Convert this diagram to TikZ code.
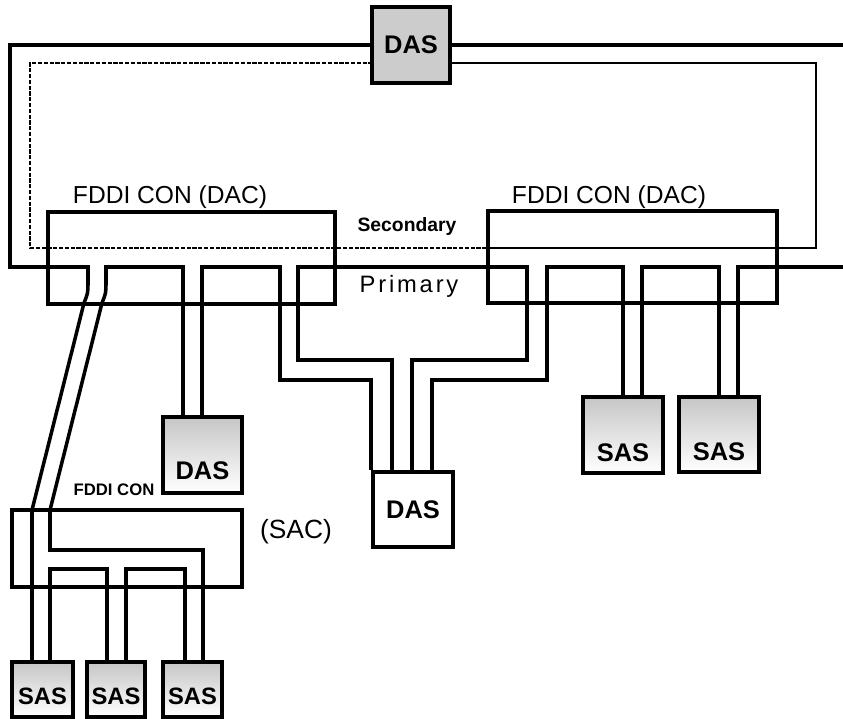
\documentclass[tikz,border=0pt]{standalone}
\usepackage{fontspec}
\setmainfont{Liberation Sans}
\newcommand\stnfont{\fontsize{14.5}{16}\selectfont\bfseries}
\newcommand\sasfont{\fontsize{13.5}{15}\selectfont\bfseries}

\begin{document}
\begin{tikzpicture}[x=0.02cm, y=-0.02cm,
  ring/.style={line width=2pt},
  secring/.style={line width=1.1pt},
  secdots/.style={line width=1pt, dash pattern=on 2.4pt off 0.9pt},
  conbox/.style={draw, line width=1.8pt, inner sep=0pt},
  stnbox/.style={draw, line width=2pt, inner sep=0pt, font=\stnfont},
  fade/.style={top color=gray!45, bottom color=white},
  lbl/.style={inner sep=0pt}]
\def\pxu{0.02cm}
\useasboundingbox (0,0) rectangle (843,719);

% stations
\node[stnbox, fill=gray!40, minimum width=78*\pxu, minimum height=76*\pxu,
  text height=10pt, text depth=0pt] (dasT) at (411,45) {DAS};
\node[stnbox, fade, minimum width=79*\pxu, minimum height=76*\pxu,
  text height=28pt, text depth=0pt] (das1) at (202.5,455) {DAS};
\node[stnbox, fill=white, minimum width=80*\pxu, minimum height=75*\pxu,
  text height=10pt, text depth=0pt] (das2) at (413,509.5) {DAS};
\node[stnbox, fade, minimum width=80*\pxu, minimum height=76*\pxu,
  text height=30pt, text depth=0pt] (sasR1) at (623,435) {SAS};
\node[stnbox, fade, minimum width=80*\pxu, minimum height=75*\pxu,
  text height=30pt, text depth=0pt] (sasR2) at (719,434.5) {SAS};
\node[stnbox, fade, font=\sasfont, minimum width=61*\pxu, minimum height=55*\pxu,
  text height=17pt, text depth=0pt] (sas1) at (42.5,689.5) {SAS};
\node[stnbox, fade, font=\sasfont, minimum width=58*\pxu, minimum height=55*\pxu,
  text height=17pt, text depth=0pt] (sas2) at (116,689.5) {SAS};
\node[stnbox, fade, font=\sasfont, minimum width=59*\pxu, minimum height=55*\pxu,
  text height=17pt, text depth=0pt] (sas3) at (192.5,689.5) {SAS};

% concentrators
\node[conbox, minimum width=287*\pxu, minimum height=92*\pxu] (dacL) at (191.5,258) {};
\node[conbox, minimum width=289*\pxu, minimum height=92*\pxu] (dacR) at (632.5,257) {};
\node[conbox, minimum width=230*\pxu, minimum height=77*\pxu] (sac) at (127,548.5) {};

% labels
\node[lbl, font=\fontsize{14}{16}\selectfont] (dacLtxt) at (170,197) {FDDI CON (DAC)};
\node[lbl, font=\fontsize{14}{16}\selectfont] (dacRtxt) at (609,197) {FDDI CON (DAC)};
\node[lbl, font=\fontsize{11}{13}\selectfont\bfseries] (sectxt) at (407,227) {Secondary};
\node[lbl, font=\fontsize{13.5}{15}\selectfont\addfontfeature{LetterSpace=12}] (pritxt) at (409,286) {Primary};
\node[lbl, font=\fontsize{9.5}{11}\selectfont\bfseries] (saclbl) at (114,490) {FDDI CON};
\node[lbl, font=\fontsize{15}{17}\selectfont] (sactxt) at (296,532) {(SAC)};

% secondary ring
\draw[secring] (dasT.east |- 0,63) -- (816,63) -- (816,248) -- (dacR.west |- 0,248);
\draw[secdots] (dacR.west |- 0,248) -- (30,248) -- (30,63) -- (dasT.west |- 0,63);

% primary ring
\draw[ring] (dasT.east) -- (843,45);
\draw[ring] (dasT.west) -- (10,45) -- (10,267) -- (88,267) -- (88,282)
  .. controls (88,293) .. (84,303) -- (32,510) -- (sas1.north -| 32,0);
\draw[ring] (sas1.north -| 50,0) -- (50,569) -- (107,569) -- (sas2.north -| 107,0);
\draw[ring] (sas2.north -| 126,0) -- (126,569) -- (185,569) -- (sas3.north -| 185,0);
\draw[ring] (sas3.north -| 203,0) -- (203,550) -- (50,550) -- (50,510) -- (102,303)
  .. controls (106,293) .. (106,282) -- (106,267) -- (183,267) -- (das1.north -| 183,0);
\draw[ring] (das1.north -| 202,0) -- (202,267) -- (280,267) -- (280,380)
  -- (das2.north west |- 0,380) -- (das2.north west);
\draw[ring] (das2.north -| 392,0) -- (392,360) -- (298,360) -- (298,267) -- (527,267)
  -- (527,360) -- (412,360) -- (das2.north -| 412,0);
\draw[ring] (das2.north -| 432,0) -- (432,380) -- (547,380) -- (547,267) -- (623,267)
  -- (sasR1.north -| 623,0);
\draw[ring] (sasR1.north -| 642,0) -- (642,267) -- (719,267) -- (sasR2.north -| 719,0);
\draw[ring] (sasR2.north -| 738,0) -- (738,267) -- (843,267);
\end{tikzpicture}
\end{document}
